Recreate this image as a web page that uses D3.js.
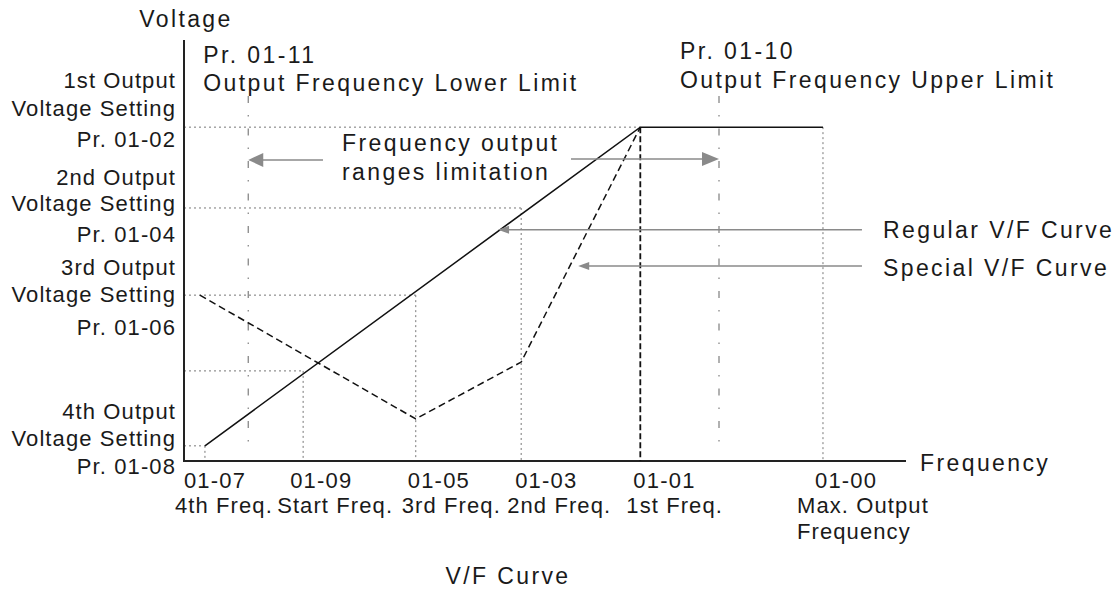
<!DOCTYPE html>
<html>
<head>
<meta charset="utf-8">
<script src="https://cdn.jsdelivr.net/npm/d3@7"></script>
<style>
  html, body { margin: 0; padding: 0; background: #fff; }
  svg { display: block; font-family: "Liberation Sans", Arial, sans-serif; }
</style>
</head>
<body>
<svg id="chart" width="1116" height="589"></svg>
<script>
// ---------------- data ----------------
// Frequency points on the horizontal axis (relative units, 0..100 of axis)
const freqCodes  = ["01-07", "01-09", "01-05", "01-03", "01-01", "01-00"];
const freqNames  = [["4th Freq."], ["Start Freq."], ["3rd Freq."], ["2nd Freq."], ["1st Freq."], ["Max. Output", "Frequency"]];
const freqValues = [2.9, 16.5, 32.1, 46.7, 63.2, 88.5];

// Voltage levels (relative units, 0..100 of axis): 1st, 2nd, 3rd, start, 4th
const voltLevels = [79.3, 60.1, 39.4, 21.4, 3.6];
const voltLabels = [
  ["1st Output", "Voltage Setting", "Pr. 01-02"],
  ["2nd Output", "Voltage Setting", "Pr. 01-04"],
  ["3rd Output", "Voltage Setting", "Pr. 01-06"],
  ["4th Output", "Voltage Setting", "Pr. 01-08"]
];

// Regular V/F curve (solid)
const regularF = [2.9, 63.2, 88.5];
const regularV = [3.6, 79.3, 79.3];
// Special V/F curve (dashed)
const specialF = [2.2, 32.1, 46.7, 63.2];
const specialV = [39.4, 10.0, 23.5, 79.3];

// Guide points
const guideF = [63.2, 46.7, 32.1, 16.5, 2.9, 88.5];
const guideV = [79.3, 60.1, 39.4, 21.4, 3.6, 79.3];
const guideH = [true, true, true, true, true, false];
const guideVt = [false, true, true, true, true, true];

// Frequency limits
const limitF = [8.9, 74.1];
const limitCodes = ["Pr. 01-11", "Pr. 01-10"];
const limitNames = ["Output Frequency Lower Limit", "Output Frequency Upper Limit"];
const limitRange = [2.4, 86.7];

// Legend
const legendNames = ["Regular V/F Curve", "Special V/F Curve"];
const legendV = [54.9, 46.3];
const legendTipF = [43.5, 54.6];
const legendStartF = 93.9;

// ---------------- layout ----------------
const svg = d3.select("#chart");
const X0 = 184, X1 = 906, Y0 = 461, Y1 = 40;
const x = d3.scaleLinear().domain([0, 100]).range([X0, X1]);
const y = d3.scaleLinear().domain([0, 100]).range([Y0, Y1]);

const txt = "#1a1a1a";
const gray = "#8a8a8a";

svg.append("rect").attr("width", 1116).attr("height", 589).attr("fill", "#fff");

// dotted guide lines
const g = svg.append("g").attr("stroke", "#777").attr("stroke-width", 1).attr("stroke-dasharray", "2,3").attr("fill", "none");
guideF.forEach((f, i) => {
  if (guideH[i]) g.append("line").attr("x1", x(0)).attr("x2", x(f)).attr("y1", y(guideV[i])).attr("y2", y(guideV[i]));
  if (guideVt[i]) g.append("line").attr("x1", x(f)).attr("x2", x(f)).attr("y1", y(guideV[i])).attr("y2", y(0));
});

// dash-dot limit lines
limitF.forEach(f => {
  svg.append("line").attr("x1", x(f)).attr("x2", x(f))
    .attr("y1", y(limitRange[1])).attr("y2", y(limitRange[0]))
    .attr("stroke", "#888").attr("stroke-width", 1.3).attr("stroke-dasharray", "7,12,1.5,12");
});

// axes
const xAxis = d3.axisBottom(x).tickValues([]).tickSize(0).tickSizeOuter(0);
const yAxis = d3.axisLeft(y).tickValues([]).tickSize(0).tickSizeOuter(0);
svg.append("g").attr("transform", `translate(0,${Y0})`).call(xAxis)
  .select(".domain").attr("stroke", "#222").attr("stroke-width", 2).attr("d", `M${X0 - 1},0H${X1}`);
svg.append("g").attr("transform", `translate(${X0},0)`).call(yAxis)
  .select(".domain").attr("stroke", "#222").attr("stroke-width", 2).attr("d", `M0,${Y1}V${Y0}`);

// curves
const line = d3.line().x(d => x(d[0])).y(d => y(d[1]));
svg.append("path").attr("d", line(regularF.map((f, i) => [f, regularV[i]])))
  .attr("fill", "none").attr("stroke", "#111").attr("stroke-width", 1.5);
svg.append("path").attr("d", line(specialF.map((f, i) => [f, specialV[i]])))
  .attr("fill", "none").attr("stroke", "#111").attr("stroke-width", 1.5).attr("stroke-dasharray", "7,4");
svg.append("line").attr("x1", x(freqValues[4])).attr("x2", x(freqValues[4]))
  .attr("y1", y(voltLevels[0])).attr("y2", y(0))
  .attr("stroke", "#111").attr("stroke-width", 1.8).attr("stroke-dasharray", "6,3");

// arrows
function arrow(xFrom, xTip, yy, len, half, w) {
  const dir = xTip > xFrom ? 1 : -1;
  svg.append("line").attr("x1", xFrom).attr("x2", xTip - dir * len * 0.8).attr("y1", yy).attr("y2", yy)
    .attr("stroke", gray).attr("stroke-width", w);
  svg.append("path")
    .attr("d", `M${xTip},${yy}L${xTip - dir * len},${yy - half}L${xTip - dir * len},${yy + half}Z`)
    .attr("fill", gray);
}
const rangeV = 71.5;
arrow(x(19.25), x(limitF[0]), y(rangeV), 15, 7, 1.5);
arrow(x(53.6), x(limitF[1]), y(rangeV) - 1, 17, 7, 1.5);
legendV.forEach((v, i) => arrow(x(legendStartF), x(legendTipF[i]), y(v), 11, 4, 1.5));

// ---------------- text ----------------
function text(str, xx, yy, opts = {}) {
  return svg.append("text").attr("x", xx).attr("y", yy)
    .attr("fill", txt)
    .attr("font-size", opts.size || 23)
    .attr("letter-spacing", opts.ls != null ? opts.ls : 2.4)
    .attr("text-anchor", opts.anchor || "start")
    .text(str);
}

text("Voltage", X0 + 2, 27, { anchor: "middle" });
text("Frequency", 920, 471);
text("V/F Curve", 508, 584, { anchor: "middle" });

// limit labels
const limitDy = [[63, 91], [59, 88]];
const limitDx = [-45, -39];
limitF.forEach((f, i) => {
  text(limitCodes[i], x(f) + limitDx[i], limitDy[i][0]);
  text(limitNames[i], x(f) + limitDx[i], limitDy[i][1]);
});

// range text
text("Frequency output", 342, 151);
text("ranges limitation", 342, 180);

// legend
legendNames.forEach((n, i) => text(n, 883, y(legendV[i]) + 8 + (i === 1 ? 2 : 0)));

// left labels
const leftDy = [[-39, -11, 20], [-23, 3, 34], [-20, 7, 40], [-27, 0, 28]];
const leftLevels = [voltLevels[0], voltLevels[1], voltLevels[2], voltLevels[4]];
voltLabels.forEach((lines, i) => {
  lines.forEach((s, j) => {
    text(s, 176, y(leftLevels[i]) + leftDy[i][j], { size: 22, ls: 1.1, anchor: "end" });
  });
});

// bottom labels
const codeDx = [-21, -13, -8, -6, -7, -8];
const nameDx = [-30, -26, -14, -14, -14, -26];
freqValues.forEach((f, i) => {
  text(freqCodes[i], x(f) + codeDx[i], 488, { size: 22, ls: 1.2 });
  freqNames[i].forEach((s, j) => {
    text(s, x(f) + nameDx[i], 513 + j * 26, { size: 22, ls: 1.1 });
  });
});
</script>
</body>
</html>
